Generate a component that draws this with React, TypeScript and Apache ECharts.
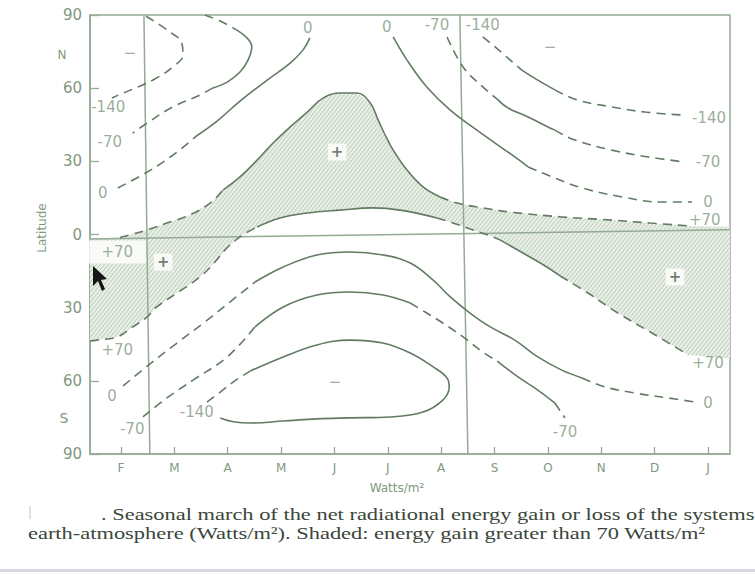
import React, { useEffect, useRef } from "react";
import * as echarts from "echarts";

// ---------- axes ----------
const monthLabels = ["F", "M", "A", "M", "J", "J", "A", "S", "O", "N", "D", "J"];
const monthTicks = [1, 2, 3, 4, 5, 6, 7, 8, 9, 10, 11, 12];
const latTicks = [-90, -60, -30, 0, 30, 60, 90];

// ---------- reference lines (month index, latitude) ----------
const marchLine = [[1.43, 90], [1.54, -90]];
const septLine = [[7.35, 90], [7.5, -90]];
const equatorLine = [[0.419, -1.8], [12.412, 1.9]];

// ---------- contours (month index, latitude) ----------
// northern hemisphere, west side
const n140W_dash = [[1.47, 89.5], [1.92, 83.0], [2.14, 78.5], [2.16, 73.6], [1.97, 68.7], [1.67, 64.2], [1.36, 60.9], [1.04, 58.0], [0.83, 56.0]];
const n70W_dash1 = [[2.57, 90], [2.86, 87.5], [3.1, 84.7]];
const n70W_solid = [[3.1, 84.7], [3.36, 80.6], [3.45, 76.9], [3.38, 71.5], [3.23, 66.6], [2.99, 62.5], [2.72, 60.1]];
const n70W_dash2 = [[2.72, 60.1], [2.48, 57.2], [1.97, 52.3], [1.49, 45.7], [1.22, 41.6]];
const n0W_dash = [[0.94, 19.1], [1.49, 25.6], [1.97, 32.5], [2.42, 40.5]];
const n0W_solid = [[2.42, 40.5], [2.8, 46.5], [3.23, 54.7], [3.74, 63.3], [4.17, 70.3], [4.41, 75.6], [4.54, 80.6]];
// northern hemisphere, east side
const n0E_solid = [[6.1, 81.0], [6.36, 71.5], [6.73, 60.5], [7.17, 51.0], [7.67, 42.8], [8.01, 37.5], [8.38, 31.8], [8.63, 27.7]];
const n0E_dash = [[8.63, 27.7], [9.08, 23.6], [9.64, 19.1], [10.39, 15.4], [11.14, 13.3], [11.7, 13.3]];
const n70E_dash1 = [[7.11, 81.0], [7.41, 68.7], [7.78, 60.5], [8.05, 55.5]];
const n70E_solid = [[8.05, 55.5], [8.25, 51.9], [8.63, 48.2], [9.0, 44.1], [9.13, 42.8]];
const n70E_dash2 = [[9.13, 42.8], [9.51, 38.7], [10.2, 34.6], [10.88, 31.8], [11.57, 29.7]];
const n140E_dash1 = [[7.78, 81.0], [8.01, 76.9], [8.51, 67.4]];
const n140E_solid = [[8.51, 67.4], [8.81, 63.3], [9.13, 59.3]];
const n140E_dash2 = [[9.13, 59.3], [9.56, 55.1], [10.2, 52.3], [10.82, 50.2], [11.51, 49.0]];
// +70 northern boundary of the gain band
const p70N_dashA = [[0.98, -1.2], [1.26, 0.4], [1.49, 1.9], [1.86, 4.7], [2.29, 8.0], [2.67, 12.9], [2.91, 18.2]];
const p70N_solid = [[2.91, 18.2], [3.23, 23.6], [3.55, 30.5], [3.85, 37.5], [4.17, 44.1], [4.49, 50.2], [4.79, 56.0], [5.1, 58.0], [5.42, 58.0], [5.67, 53.9], [5.82, 46.9], [5.95, 40.8], [6.1, 34.6], [6.36, 26.4], [6.66, 19.5], [6.98, 15.4]];
const p70N_dashB = [[6.98, 15.4], [7.3, 12.9], [7.78, 10.9], [8.29, 9.2], [9.26, 7.2], [10.2, 5.9], [10.91, 4.7], [11.66, 3.5]];
// +70 southern boundary of the gain band
const p70S_dashA = [[0.42, -43.7], [0.55, -43.3], [0.93, -42.0], [1.22, -37.9], [1.49, -33.8], [1.67, -29.7], [2.05, -24.0], [2.48, -17.4], [2.76, -11.3], [2.95, -6.3], [3.23, -1.0], [3.55, 3.1]];
const p70S_solidB = [[3.55, 3.1], [3.98, 6.8], [4.49, 8.8], [5.1, 10.0], [5.72, 10.9], [6.23, 10.0], [6.92, 6.8]];
const p70S_dashB = [[6.92, 6.8], [7.17, 5.1], [7.54, 2.3], [7.92, -0.6], [8.1, -2.2]];
const p70S_solidC = [[8.1, -2.2], [8.63, -8.8], [8.95, -12.9], [9.23, -17.0]];
const p70S_dashC = [[9.23, -17.0], [9.75, -24.0], [10.31, -32.2], [10.95, -40.4], [11.63, -49.4]];
// southern hemisphere
const s0_dash = [[1.04, -62.1], [1.54, -53.1], [2.05, -44.5], [2.57, -35.9], [3.04, -27.7], [3.51, -19.5]];
const s0_solid = [[3.51, -19.5], [4.04, -13.3], [4.67, -8.4], [5.29, -7.2], [5.91, -8.4], [6.42, -11.7], [6.85, -18.7], [7.17, -25.6], [7.54, -32.2], [7.92, -37.9], [8.38, -43.3], [8.81, -50.2], [9.26, -55.6], [9.64, -58.8]];
const s0_dash2 = [[9.64, -58.8], [10.07, -62.5], [10.63, -65.0], [11.25, -67.0], [11.76, -68.7]];
const s70_dashA = [[1.41, -74.8], [1.86, -67.0], [2.35, -59.7], [2.99, -50.2], [3.51, -37.9]];
const s70_solidA = [[3.51, -37.9], [4.04, -29.7], [4.67, -24.8], [5.29, -23.6], [5.91, -24.8], [6.42, -28.1]];
const s70_dashB = [[6.42, -28.1], [6.73, -32.2], [7.03, -36.3], [7.41, -42.0], [7.78, -48.2], [8.05, -51.9]];
const s70_solidB = [[8.05, -51.9], [8.44, -58.4], [8.81, -63.8], [9.13, -69.1]];
const s70_dashC = [[9.13, -69.1], [9.32, -75.2]];
const s140_dash = [[2.61, -68.7], [2.86, -64.6], [3.1, -60.5], [3.42, -56.0]];
const s140_solid = [[3.42, -56.0], [4.04, -50.2], [4.67, -45.3], [5.29, -43.3], [5.91, -44.5], [6.42, -48.6], [6.85, -54.3], [7.11, -58.8], [7.15, -62.5], [7.03, -67.9], [6.66, -72.8], [6.04, -74.8], [5.29, -75.2], [4.67, -75.6], [4.04, -76.5], [3.42, -77.3], [3.14, -76.9], [2.86, -75.2]];

// shaded region (> +70) corners at plot edges
const shadeLeftTop = [[0.419, -1.5]];
const shadeRightEdge = [[12.412, 3.2], [12.412, -50.8]];

// ---------- in-plot labels: [text, month index, latitude] ----------
const contourLabels: [string, number, number][] = [
  ["\u2212", 1.17, 74.4], ["-140", 0.76, 52.3], ["-70", 0.79, 37.9], ["0", 0.66, 17.0],
  ["0", 4.5, 84.7], ["0", 5.98, 85.1], ["-70", 6.92, 85.9], ["-140", 7.78, 85.9],
  ["\u2212", 9.04, 76.9], ["-140", 12.02, 47.8], ["-70", 12.0, 29.7], ["0", 12.0, 13.3],
  ["+70", 11.94, 5.9], ["+70", 12.0, -52.7], ["0", 12.0, -69.1], ["-70", 9.32, -81.0],
  ["+70", 0.93, -47.4], ["0", 0.83, -66.2], ["-70", 1.21, -79.7], ["-140", 2.42, -72.8],
  ["\u2212", 5.01, -60.5],
];
const plusMarks: [string, number, number][] = [["+", 5.05, 33.8], ["+", 1.79, -11.3], ["+", 11.38, -17.4]];
const boxedLabels: [string, number, number][] = [["+70", 0.93, -7.2]];

const caption1 = ". Seasonal march of the net radiational energy gain or loss of the systems";
const caption2 = "earth-atmosphere (Watts/m\u00b2). Shaded: energy gain greater than 70 Watts/m\u00b2";

const LINE = "#627b62";
const FRAME = "#95ab95";
const TXT = "#7f987f";
const SANS = '"DejaVu Sans", sans-serif';

function seg(data: number[][], dashed: boolean) {
  return {
    type: "line",
    data,
    smooth: 0.4,
    symbol: "none",
    silent: true,
    z: 4,
    lineStyle: { color: LINE, width: 1.6, type: dashed ? [9, 6] : "solid" },
  };
}
function refLine(data: number[][]) {
  return {
    type: "line",
    data,
    symbol: "none",
    silent: true,
    z: 3,
    lineStyle: { color: FRAME, width: 1.5 },
  };
}

export default function App() {
  const ref = useRef<HTMLDivElement>(null);
  useEffect(() => {
    if (!ref.current) return;
    const chart = echarts.init(ref.current, null, { renderer: "svg" });

    const cv = document.createElement("canvas");
    cv.width = 4;
    cv.height = 5;
    const ctx = cv.getContext("2d")!;
    ctx.fillStyle = "#e8efe6";
    ctx.fillRect(0, 0, 4, 5);
    ctx.strokeStyle = "#bccbb9";
    ctx.lineWidth = 1;
    ctx.beginPath();
    ctx.moveTo(0, 5); ctx.lineTo(4, 0);
    ctx.moveTo(-4, 5); ctx.lineTo(0, 0);
    ctx.moveTo(4, 5); ctx.lineTo(8, 0);
    ctx.stroke();
    const hatch = { image: cv, repeat: "repeat" };

    const upper = [...shadeLeftTop, ...p70N_dashA, ...p70N_solid.slice(1), ...p70N_dashB.slice(1)];
    const lower = [...p70S_dashA, ...p70S_solidB.slice(1), ...p70S_dashB.slice(1), ...p70S_solidC.slice(1), ...p70S_dashC.slice(1)];
    const shadePoly = [...upper, ...shadeRightEdge, ...lower.slice().reverse()];

    const labelData = [
      ...contourLabels.map((l) => ({ name: l[0], value: [l[1], l[2]] })),
      ...plusMarks.map((l) => ({
        name: l[0], value: [l[1], l[2]],
        label: { backgroundColor: "#ffffff", padding: [1, 3], color: "#4d5f4d", fontWeight: "bold" },
      })),
      ...boxedLabels.map((l) => ({
        name: l[0], value: [l[1], l[2]],
        label: { backgroundColor: "#ffffff", padding: [4, 13] },
      })),
    ];

    const series: any[] = [
      {
        type: "custom",
        data: [0],
        silent: true,
        z: 1,
        renderItem: (_p: any, api: any) => ({
          type: "polygon",
          shape: { points: shadePoly.map((p) => api.coord(p)) },
          style: { fill: hatch, stroke: "none" },
        }),
      },
      refLine(marchLine), refLine(septLine), refLine(equatorLine),
      seg(n140W_dash, true),
      seg(n70W_dash1, true), seg(n70W_solid, false), seg(n70W_dash2, true),
      seg(n0W_dash, true), seg(n0W_solid, false),
      seg(n0E_solid, false), seg(n0E_dash, true),
      seg(n70E_dash1, true), seg(n70E_solid, false), seg(n70E_dash2, true),
      seg(n140E_dash1, true), seg(n140E_solid, false), seg(n140E_dash2, true),
      seg(p70N_dashA, true), seg(p70N_solid, false), seg(p70N_dashB, true),
      seg(p70S_dashA, true), seg(p70S_solidB, false), seg(p70S_dashB, true), seg(p70S_solidC, false), seg(p70S_dashC, true),
      seg(s0_dash, true), seg(s0_solid, false), seg(s0_dash2, true),
      seg(s70_dashA, true), seg(s70_solidA, false), seg(s70_dashB, true), seg(s70_solidB, false), seg(s70_dashC, true),
      seg(s140_dash, true), seg(s140_solid, false),
      {
        type: "scatter",
        data: labelData,
        symbolSize: 1,
        silent: true,
        z: 6,
        itemStyle: { color: "transparent" },
        label: {
          show: true,
          position: "inside",
          formatter: "{b}",
          color: TXT,
          fontSize: 15,
          fontFamily: SANS,
        },
      },
    ];

    chart.setOption({
      animation: false,
      backgroundColor: "#ffffff",
      grid: { left: 90, right: 25, top: 15, bottom: 121, show: true, borderColor: FRAME, borderWidth: 1.5, backgroundColor: "transparent" },
      xAxis: {
        type: "value",
        min: 0.419,
        max: 12.412,
        axisLine: { show: true, onZero: false, lineStyle: { color: FRAME, width: 1.5 } },
        axisTick: { show: true, inside: true, length: 7, customValues: monthTicks, lineStyle: { color: FRAME, width: 1.3 } },
        axisLabel: {
          customValues: monthTicks,
          formatter: (v: number) => monthLabels[Math.round(v) - 1] ?? "",
          color: TXT, fontSize: 12, fontFamily: SANS, margin: 8,
        },
        splitLine: { show: false },
      },
      yAxis: {
        type: "value",
        min: -90,
        max: 90,
        interval: 30,
        axisLine: { show: true, onZero: false, lineStyle: { color: FRAME, width: 1.5 } },
        axisTick: { show: true, inside: true, length: 9, lineStyle: { color: FRAME, width: 1.3 } },
        axisLabel: {
          customValues: latTicks,
          formatter: (v: number) => String(Math.abs(v)),
          color: TXT, fontSize: 15, fontFamily: SANS, margin: 8,
        },
        splitLine: { show: false },
      },
      graphic: [
        { type: "text", x: 62, y: 55, style: { text: "N", font: `12px ${SANS}`, fill: TXT, textAlign: "center", textVerticalAlign: "middle" } },
        { type: "text", x: 64, y: 418, style: { text: "S", font: `14px ${SANS}`, fill: TXT, textAlign: "center", textVerticalAlign: "middle" } },
        { type: "text", x: 42, y: 228, rotation: Math.PI / 2, style: { text: "Latitude", font: `12px ${SANS}`, fill: TXT, textAlign: "center", textVerticalAlign: "middle" } },
        { type: "text", x: 397, y: 488, style: { text: "Watts/m\u00b2", font: `12px ${SANS}`, fill: TXT, textAlign: "center", textVerticalAlign: "middle" } },
        { type: "line", shape: { x1: 30, y1: 506, x2: 30, y2: 519 }, style: { stroke: "#d3dad3", lineWidth: 1.5 } },
        { type: "text", x: 101, y: 514, scaleX: 1.32, style: { text: caption1, font: '17px "Liberation Serif", serif', fill: "#3a463a", textAlign: "left", textVerticalAlign: "middle" } },
        { type: "text", x: 28, y: 533, scaleX: 1.32, style: { text: caption2, font: '17px "Liberation Serif", serif', fill: "#3a463a", textAlign: "left", textVerticalAlign: "middle" } },
        { type: "rect", shape: { x: 0, y: 569, width: 755, height: 3 }, style: { fill: "#d6d9e2" } },
        { type: "polygon", shape: { points: [[93, 266], [93, 286], [98, 281], [102, 291], [105, 289], [101, 280], [107, 279]] }, style: { fill: "#151515" }, z: 100 },
      ],
      series,
    });
    return () => chart.dispose();
  }, []);
  return <div ref={ref} style={{ position: "absolute", left: 0, top: 0, width: 755, height: 575 }} />;
}
